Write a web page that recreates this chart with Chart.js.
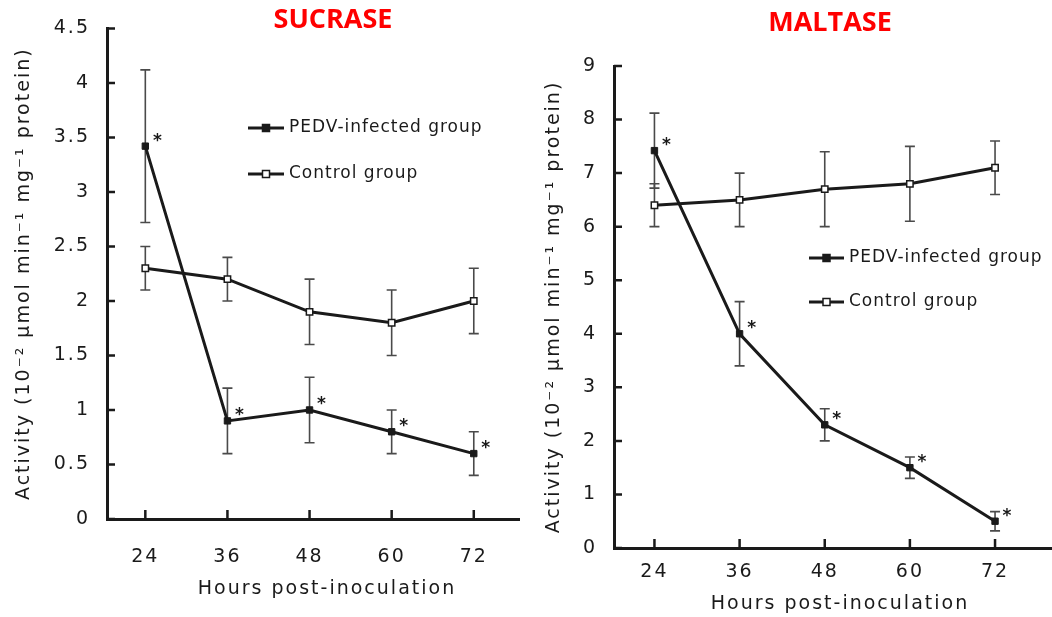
<!DOCTYPE html>
<html>
<head>
<meta charset="utf-8">
<script src="https://cdn.jsdelivr.net/npm/chart.js@4.4.1/dist/chart.umd.min.js"></script>
<style>
    html, body { margin: 0; padding: 0; background: #fff; overflow: hidden; }
    .panel { position: absolute; top: 0; background: #fff; }
</style>
</head>
<body>
<div class="panel" style="left:0;width:553px;height:617px;z-index:1"><canvas id="sucrase" width="553" height="617"></canvas></div>
<div class="panel" style="left:520px;width:552px;height:617px;z-index:2"><canvas id="maltase" width="552" height="617"></canvas></div>
<script>
"use strict";

const hours = [24, 36, 48, 60, 72];

const sucraseTicks = [0, 0.5, 1, 1.5, 2, 2.5, 3, 3.5, 4, 4.5];
const sucrasePedv = [3.42, 0.9, 1.0, 0.8, 0.6];
const sucrasePedvErr = [0.7, 0.3, 0.3, 0.2, 0.2];
const sucraseControl = [2.3, 2.2, 1.9, 1.8, 2.0];
const sucraseControlErr = [0.2, 0.2, 0.3, 0.3, 0.3];

const maltaseTicks = [0, 1, 2, 3, 4, 5, 6, 7, 8, 9];
const maltasePedv = [7.42, 4.0, 2.3, 1.5, 0.5];
const maltasePedvErr = [0.7, 0.6, 0.3, 0.2, 0.18];
const maltaseControl = [6.4, 6.5, 6.7, 6.8, 7.1];
const maltaseControlErr = [0.4, 0.5, 0.7, 0.7, 0.5];

const kInk = "#1a1a1a";
const kFace = "'DejaVu Sans', sans-serif";
const kYTitle = "Activity (10\u207B\u00B2 \u03BCmol min\u207B\u00B9 mg\u207B\u00B9 protein)";

function points(values) {
    return hours.map((h, i) => ({ x: h, y: values[i] }));
}

// the original typeface is wide and loosely set, so open up the spacing a bit
const spacing = {
    id: "spacing",
    beforeUpdate(chart) {
        chart.ctx.letterSpacing = "2px";
    },
    beforeDraw(chart) {
        chart.ctx.letterSpacing = "2px";
    }
};

// error bars, inward ticks, asterisks, legend and the red heading
const decor = {
    id: "decor",
    beforeDatasetsDraw(chart, args, opts) {
        const { ctx, scales: { x, y } } = chart;
        ctx.save();
        ctx.strokeStyle = "#4a4a4a";
        ctx.lineWidth = 1.6;
        chart.data.datasets.forEach((ds) => {
            ds.data.forEach((pt, i) => {
                const px = x.getPixelForValue(pt.x);
                const hi = y.getPixelForValue(pt.y + ds.err[i]);
                const lo = y.getPixelForValue(pt.y - ds.err[i]);
                ctx.beginPath();
                ctx.moveTo(px, hi);
                ctx.lineTo(px, lo);
                ctx.moveTo(px - 5, hi);
                ctx.lineTo(px + 5, hi);
                ctx.moveTo(px - 5, lo);
                ctx.lineTo(px + 5, lo);
                ctx.stroke();
            });
        });
        ctx.restore();
    },
    afterDraw(chart, args, opts) {
        const { ctx, chartArea, scales: { x, y } } = chart;
        ctx.save();

        // ticks pointing into the plot
        ctx.strokeStyle = kInk;
        ctx.lineWidth = 2.5;
        ctx.beginPath();
        for (const t of x.ticks) {
            const px = x.getPixelForValue(t.value);
            ctx.moveTo(px, chartArea.bottom);
            ctx.lineTo(px, chartArea.bottom - 9);
        }
        for (const t of y.ticks) {
            const py = y.getPixelForValue(t.value);
            ctx.moveTo(chartArea.left, py);
            ctx.lineTo(chartArea.left + 8, py);
        }
        ctx.stroke();

        // significance marks
        const pedv = chart.data.datasets[0];
        ctx.letterSpacing = "0px";
        ctx.fillStyle = kInk;
        ctx.font = `bold 17px ${kFace}`;
        ctx.textAlign = "center";
        ctx.textBaseline = "middle";
        pedv.data.forEach((pt) => {
            ctx.fillText("*", x.getPixelForValue(pt.x) + 12, y.getPixelForValue(pt.y) - 5);
        });

        // legend
        const lg = opts.legend;
        chart.data.datasets.forEach((ds, i) => {
            const ly = lg.rows[i];
            ctx.strokeStyle = kInk;
            ctx.lineWidth = 3;
            ctx.beginPath();
            ctx.moveTo(lg.x0, ly);
            ctx.lineTo(lg.x1, ly);
            ctx.stroke();
            const mx = (lg.x0 + lg.x1) / 2;
            ctx.fillStyle = ds.pointBackgroundColor;
            ctx.lineWidth = 1.5;
            ctx.fillRect(mx - 3.5, ly - 3.5, 7, 7);
            ctx.strokeRect(mx - 3.5, ly - 3.5, 7, 7);
            ctx.fillStyle = kInk;
            ctx.letterSpacing = "1px";
            ctx.font = `17px ${kFace}`;
            ctx.textAlign = "left";
            ctx.textBaseline = "middle";
            ctx.fillText(ds.label, lg.x1 + 5, ly);
        });

        // heading
        const hd = opts.heading;
        ctx.letterSpacing = "0px";
        ctx.fillStyle = "#ff0000";
        ctx.font = "bold 27px 'Open Sans', sans-serif";
        ctx.textAlign = "center";
        ctx.textBaseline = "middle";
        ctx.fillText(hd.text, hd.x, hd.y);

        ctx.restore();
    }
};

function createChart(elementId, payload) {
    const { pedv, pedvErr, control, controlErr, yTicks, xRange, area, titlePad, heading, legend } = payload;
    const font = { family: kFace, size: 19 };

    new Chart(document.getElementById(elementId).getContext("2d"), {
        type: "line",
        data: {
            datasets: [{
                label: "PEDV-infected group",
                data: points(pedv),
                err: pedvErr,
                borderColor: kInk,
                borderWidth: 3,
                pointStyle: "rect",
                pointRadius: 4.5,
                pointBackgroundColor: kInk,
                pointBorderColor: kInk,
                pointBorderWidth: 1,
                tension: 0
            }, {
                label: "Control group",
                data: points(control),
                err: controlErr,
                borderColor: kInk,
                borderWidth: 3,
                pointStyle: "rect",
                pointRadius: 4.5,
                pointBackgroundColor: "#ffffff",
                pointBorderColor: kInk,
                pointBorderWidth: 1.5,
                tension: 0
            }]
        },
        options: {
            responsive: false,
            animation: false,
            layout: { padding: { top: area.top, left: 0, right: 0, bottom: 0 } },
            plugins: {
                legend: { display: false },
                tooltip: { enabled: false },
                decor: { heading, legend }
            },
            scales: {
                x: {
                    type: "linear",
                    min: xRange[0],
                    max: xRange[1],
                    afterBuildTicks: (s) => { s.ticks = hours.map((v) => ({ value: v })); },
                    afterFit: (s) => { s.height = area.xHeight; },
                    grid: { drawOnChartArea: false, drawTicks: false },
                    border: { color: kInk, width: 3 },
                    ticks: { font, color: kInk, padding: area.xTickPad, callback: (v) => String(v) },
                    title: { display: true, text: "Hours post-inoculation", font, color: kInk, padding: titlePad.x }
                },
                y: {
                    min: yTicks[0],
                    max: yTicks[yTicks.length - 1],
                    afterBuildTicks: (s) => { s.ticks = yTicks.map((v) => ({ value: v })); },
                    afterFit: (s) => { s.width = area.yWidth; },
                    grid: { drawOnChartArea: false, drawTicks: false },
                    border: { color: kInk, width: 3 },
                    ticks: { font, color: kInk, padding: 17, callback: (v) => String(v) },
                    title: { display: true, text: kYTitle, font, color: kInk, padding: titlePad.y }
                }
            }
        },
        plugins: [spacing, decor]
    });
}

document.addEventListener("DOMContentLoaded", () => {
    createChart("sucrase", {
        pedv: sucrasePedv,
        pedvErr: sucrasePedvErr,
        control: sucraseControl,
        controlErr: sucraseControlErr,
        yTicks: sucraseTicks,
        xRange: [18.4, 82.7],
        area: { top: 21, yWidth: 107, xHeight: 98, xTickPad: 27 },
        titlePad: { x: 17, y: 13 },
        heading: { text: "SUCRASE", x: 333, y: 20 },
        legend: { x0: 248, x1: 284, rows: [128, 174] }
    });

    createChart("maltase", {
        pedv: maltasePedv,
        pedvErr: maltasePedvErr,
        control: maltaseControl,
        controlErr: maltaseControlErr,
        yTicks: maltaseTicks,
        xRange: [18.3, 82.0],
        area: { top: 66, yWidth: 94, xHeight: 69, xTickPad: 13 },
        titlePad: { x: 2, y: 23 },
        heading: { text: "MALTASE", x: 310, y: 23 },
        legend: { x0: 289, x1: 324, rows: [258, 302] }
    });
});
</script>
</body>
</html>
